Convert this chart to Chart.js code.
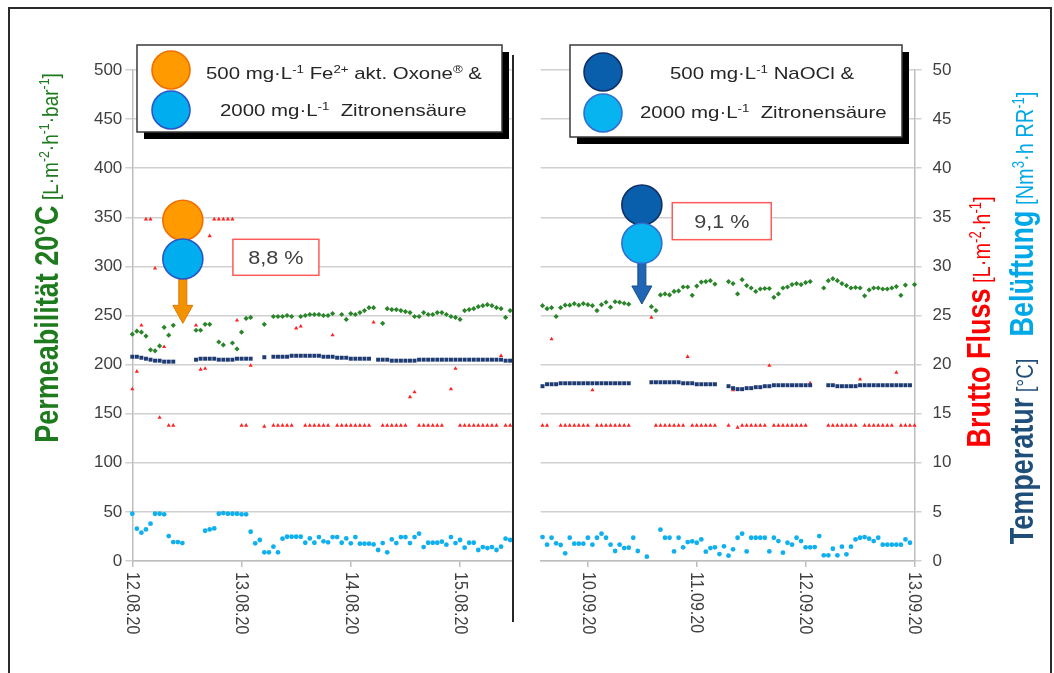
<!DOCTYPE html>
<html lang="de">
<head>
<meta charset="UTF-8">
<title>Permeabilität – Vergleich der Reinigungen</title>
<script src="https://cdn.jsdelivr.net/npm/chart.js"></script>
<style>
  html, body { margin: 0; padding: 0; background: #fff; }
  #wrap { position: relative; width: 1054px; height: 673px; overflow: hidden; }
  #frame { position: absolute; left: 8px; top: 7px; width: 1040px; height: 700px; border: 2px solid #2b2b2b; }
  #leftChart { position: absolute; left: 0; top: 0; }
  #rightChart { position: absolute; left: 513px; top: 0; }
</style>
</head>
<body>
<div id="wrap">
  <div id="frame"></div>
  <canvas id="leftChart" width="520" height="673"></canvas>
  <canvas id="rightChart" width="541" height="673"></canvas>
</div>
<script>
// x values are hours: left panel from 12.08.20 00:00, right panel from 09.09.20 00:00
const leftStartHour = 0;
const leftEndHour = 83.3;
const leftTickHours = [0, 24, 48, 72];
const leftTickLabels = ['12.08.20', '13.08.20', '14.08.20', '15.08.20'];

const rightStartHour = 14;
const rightMinHour = 13.6;
const rightEndHour = 96;
const rightTickHours = [24, 48, 72, 96];
const rightTickLabels = ['10.09.20', '11.09.20', '12.09.20', '13.09.20'];

// Permeabilität 20°C [L/(m²·h·bar)] - left axis
const leftPerm = [
  231, 234, 233, 229, 215, 214, 219, 238, 230, 240,
  null, null, null, null, 235, 235, 241, 241, null, 223,
  220, null, 222, 216, 233, 247, 248, null, null, 241,
  null, 249, 249, 249, 250, 249, null, 249, 250, 251,
  251, 251, 250, 250, 252, null, 251, 246, 252, 251,
  253, 255, 258, 258, null, 242, 257, 256, 256, 255,
  254, 253, 249, 249, 253, 251, 251, 253, 253, 251,
  249, 248, 246, 255, 256, 257, 259, 260, 261, 260,
  258, 257, 248, 255
];
// Brutto Fluss [L/(m²·h)] - right axis
const leftFlux = [
  17.5, 19.3, 24.0, 34.8, 34.8, 29.8, 14.6, 21.8, 13.8, 13.8,
  null, null, null, null, 24.0, 19.5, 19.6, 33.1, 34.8, 34.8,
  34.8, 34.8, 34.8, 24.5, 13.8, 13.8, 19.9, null, null, 13.7,
  null, 13.8, 13.8, 13.8, 13.8, 13.8, 23.7, 23.9, 13.8, 13.8,
  13.8, 13.8, 13.8, 13.8, 23.0, 13.8, 13.8, 13.8, 13.8, 13.8,
  13.8, 13.8, 13.8, 24.3, null, 13.8, 13.8, 13.8, 13.8, 13.8,
  13.8, 16.7, 17.2, 13.8, 13.8, 13.8, 13.8, 13.8, 13.8, null,
  17.5, 19.6, 13.8, 13.8, 13.8, 13.8, 13.8, 13.8, 13.8, 13.8,
  13.8, 20.9, 13.8, 13.8
];
// Temperatur [°C] - right axis
const leftTemp = [
  20.8, 20.8, 20.7, 20.6, 20.5, 20.4, 20.4, 20.3, 20.3, 20.3,
  null, null, null, null, 20.5, 20.6, 20.6, 20.6, 20.6, 20.5,
  20.5, 20.5, 20.5, 20.6, 20.6, 20.6, 20.6, null, null, 20.75,
  null, 20.8, 20.8, 20.8, 20.8, 20.9, 20.9, 20.9, 20.9, 20.9,
  20.9, 20.9, 20.8, 20.8, 20.8, 20.7, 20.7, 20.7, 20.6, 20.6,
  20.6, 20.6, 20.6, null, 20.5, 20.5, 20.5, 20.4, 20.4, 20.4,
  20.4, 20.4, 20.4, 20.5, 20.5, 20.5, 20.5, 20.5, 20.5, 20.5,
  20.5, 20.5, 20.5, 20.5, 20.5, 20.5, 20.5, 20.5, 20.5, 20.5,
  20.5, 20.5, 20.4, 20.4
];
// Belüftung [Nm³/(h·RR)] - right axis
const leftAir = [
  4.81, 3.29, 2.88, 3.22, 3.8, 4.81, 4.81, 4.75, 2.54, 1.93,
  1.93, 1.83, null, null, null, null, 3.08, 3.22, 3.32, 4.81,
  4.88, 4.81, 4.81, 4.81, 4.75, 4.75, 2.98, 1.8, 2.14, 0.88,
  0.88, 1.46, 0.88, 2.27, 2.47, 2.47, 2.47, 2.47, 1.86, 2.3,
  1.86, 2.44, 2.0, 1.9, 2.44, 2.44, 1.86, 2.3, 1.8, 2.44,
  1.76, 1.76, 1.76, 1.69, 1.12, 1.83, 0.88, 2.2, 1.83, 2.44,
  2.44, 1.83, 2.44, 2.78, 1.42, 1.86, 1.86, 1.86, 1.97, 1.66,
  2.44, 1.83, 2.14, 1.36, 1.86, 1.86, 1.12, 1.42, 1.32, 1.42,
  1.12, 1.46, 2.27, 2.14
];

const rightPerm = [
  260, 257, 258, 249, 258, 260.5, 260.5, 262, 260.5, 262,
  261, 260, 255, 261, 263.5, 258.5, 264, 263.5, 262.5, 261.5,
  null, null, null, null, 259, 255, 271, 272, 271, 274.5,
  275, 279, 279, 270.5, 280, 284, 284.5, 285.5, 282, null,
  null, 284.5, 282.5, 272, 286.5, 280.5, 278, 274.5, 277, 277.5,
  277.5, 268.5, 272, 278, 279, 281.5, 282.5, 281.5, 283.5, 284.5,
  null, null, 278, 285.5, 287.5, 285.5, 282.5, 280.5, 278, 278.5,
  278, 270, 276, 278, 278, 277, 277, 278, 279.5, 270.5,
  281, null, 281.5
];
const rightFlux = [
  13.8, 13.8, 22.6, null, 13.8, 13.8, 13.8, 13.8, 13.8, 13.8,
  13.8, 17.4, 13.8, 13.8, 13.8, 13.8, 13.8, 13.8, 13.8, 13.8,
  null, null, null, null, 24.8, 13.8, 13.8, 13.8, 13.8, 13.8,
  13.8, 13.8, 20.8, 13.8, 13.8, 13.8, 13.8, 13.8, 13.8, null,
  null, 13.8, 17.4, 13.6, 13.8, 13.8, 13.8, 13.8, 13.8, 13.8,
  19.9, 13.8, 13.8, 13.8, 13.8, 13.8, 13.8, 13.8, 13.8, 18.1,
  null, null, null, 13.8, 13.8, 13.8, 13.8, 13.8, 13.8, 13.8,
  18.5, 13.8, 13.8, 13.8, 13.8, 13.8, 13.8, 13.8, 19.2, 13.8,
  13.8, 13.8, 13.8
];
const rightTemp = [
  17.8, 18.0, 18.0, 18.0, 18.1, 18.1, 18.1, 18.1, 18.1, 18.1,
  18.1, 18.1, 18.1, 18.1, 18.1, 18.1, 18.1, 18.1, 18.1, 18.1,
  null, null, null, null, 18.2, 18.2, 18.2, 18.2, 18.2, 18.2,
  18.2, 18.1, 18.1, 18.1, 18.0, 18.0, 18.0, 18.0, 18.0, null,
  null, 17.8, 17.6, 17.5, 17.5, 17.6, 17.6, 17.7, 17.7, 17.8,
  17.8, 17.9, 17.9, 17.9, 17.9, 17.9, 17.9, 17.9, 17.9, 17.9,
  null, null, null, 17.9, 17.9, 17.8, 17.8, 17.8, 17.8, 17.8,
  17.9, 17.9, 17.9, 17.9, 17.9, 17.9, 17.9, 17.9, 17.9, 17.9,
  17.9, 17.9, null
];
const rightAir = [
  2.44, 1.66, 2.37, 1.8, 1.63, 0.78, 2.37, 1.76, 1.76, 1.76,
  2.37, 1.66, 2.37, 2.78, 2.37, 1.66, 1.02, 1.66, 1.32, 1.36,
  2.37, 1.02, null, 0.44, null, null, 3.19, 2.37, 2.37, 0.98,
  2.37, 1.39, 1.93, 2.0, 1.86, 2.2, 0.95, 1.32, 1.39, 0.71,
  1.49, 0.54, 1.19, 2.37, 2.78, 0.98, 2.37, 2.37, 2.37, 2.37,
  0.98, 2.37, 2.03, 0.85, 1.86, 1.66, 2.37, 2.03, 1.39, 1.39,
  1.42, 2.54, 0.58, 0.58, 1.25, 0.58, 1.46, 0.68, 1.46, 2.2,
  2.37, 2.44, 2.27, 2.03, 2.37, 1.66, 1.66, 1.66, 1.66, 1.66,
  2.2, 1.86, null
];

const FAM = '"Liberation Sans", Arial, sans-serif';
const SX = 1.2;   // the reference text is drawn a bit wider than tall
const GRID = '#d0d0d0';
const AXIS = '#bdbdbd';
const TICK_TEXT = '#404040';
Chart.defaults.font.family = FAM;

function pts(start, vals) {
  const out = [];
  vals.forEach((v, i) => { if (v !== null) out.push({ x: start + i, y: v }); });
  return out;
}

function makeSets(start, perm, flux, temp, air) {
  const base = { showLine: false, pointBorderWidth: 0, clip: false };
  return [
    { ...base, label: 'Temperatur', data: pts(start, temp), yAxisID: 'y2',
      backgroundColor: '#1f3b73', pointStyle: 'rect', pointRadius: 2.8 },
    { ...base, label: 'Belüftung', data: pts(start, air), yAxisID: 'y2',
      backgroundColor: '#10b0ee', pointStyle: 'circle', pointRadius: 2.4 },
    { ...base, label: 'Permeabilität 20°C', data: pts(start, perm), yAxisID: 'y',
      backgroundColor: '#2a852a', pointStyle: 'rectRot', pointRadius: 2.6 },
    { ...base, label: 'Brutto Fluss', data: pts(start, flux), yAxisID: 'y2',
      backgroundColor: '#ff2020', pointStyle: 'triangle', pointRadius: 2.4 }
  ];
}

// text with superscripts, optionally rotated
function drawRich(ctx, segs, x, y, angle, align, color) {
  ctx.save();
  ctx.translate(x, y);
  ctx.scale(SX, 1);
  if (angle) ctx.rotate(angle * Math.PI / 180);
  ctx.textBaseline = 'alphabetic';
  ctx.textAlign = 'left';
  const fonts = segs.map(s => (s.b ? 'bold ' : '') + (s.sup ? s.s * 0.65 : s.s) + 'px ' + FAM);
  const widths = segs.map((s, i) => { ctx.font = fonts[i]; return ctx.measureText(s.t).width; });
  let cx = align === 'center' ? -widths.reduce((a, b) => a + b, 0) / 2 : 0;
  segs.forEach((s, i) => {
    ctx.font = fonts[i];
    ctx.fillStyle = s.c || color;
    ctx.fillText(s.t, cx, s.sup ? -s.s * 0.38 : 0);
    cx += widths[i];
  });
  ctx.restore();
}

function circle(ctx, x, y, r, fill, stroke) {
  ctx.beginPath();
  ctx.arc(x, y, r, 0, Math.PI * 2);
  ctx.fillStyle = fill;
  ctx.fill();
  ctx.lineWidth = 1.6;
  ctx.strokeStyle = stroke;
  ctx.stroke();
}

function arrowDown(ctx, x, y0, y1, fill, stroke) {
  const sw = 4, hw = 10, hl = 18;
  ctx.beginPath();
  ctx.moveTo(x - sw, y0);
  ctx.lineTo(x + sw, y0);
  ctx.lineTo(x + sw, y1 - hl);
  ctx.lineTo(x + hw, y1 - hl);
  ctx.lineTo(x, y1);
  ctx.lineTo(x - hw, y1 - hl);
  ctx.lineTo(x - sw, y1 - hl);
  ctx.closePath();
  ctx.fillStyle = fill;
  ctx.fill();
  ctx.lineWidth = 1;
  ctx.strokeStyle = stroke;
  ctx.stroke();
}

function legendBox(ctx, box, circles, lines) {
  ctx.fillStyle = '#000';
  ctx.fillRect(box.x + 7, box.y + 7, box.w, box.h);
  ctx.fillStyle = '#fff';
  ctx.fillRect(box.x, box.y, box.w, box.h);
  ctx.lineWidth = 1.5;
  ctx.strokeStyle = '#3a3a3a';
  ctx.strokeRect(box.x, box.y, box.w, box.h);
  circles.forEach(c => circle(ctx, c.x, c.y, 19, c.fill, c.stroke));
  lines.forEach(l => drawRich(ctx, l.segs, l.x, l.y, 0, 'left', '#262626'));
}

function unit(parts, size) {
  // parts: strings, superscripts marked with ^
  return parts.map(p => p.startsWith('^') ? { t: p.slice(1), s: size, sup: true } : { t: p, s: size });
}

function decoPlugin(spec) {
  return {
    id: 'deco_' + spec.name,
    afterDatasetsDraw(chart) {
      const ctx = chart.ctx;
      const xs = chart.scales.x, ys = chart.scales.y;
      const m = spec.mark;
      const mx = xs.getPixelForValue(m.hour);
      ctx.save();
      arrowDown(ctx, mx, ys.getPixelForValue(m.circles[1].v) + 16, ys.getPixelForValue(m.tip), m.arrowFill, m.arrowStroke);
      m.circles.forEach(c => circle(ctx, mx, ys.getPixelForValue(c.v), 20, c.fill, c.stroke));
      const bx = xs.getPixelForValue(m.box.hour), by = ys.getPixelForValue(m.box.v);
      ctx.fillStyle = '#fff';
      ctx.fillRect(bx, by, m.box.w, m.box.h);
      ctx.lineWidth = 1.5;
      ctx.strokeStyle = '#ff5a5a';
      ctx.strokeRect(bx, by, m.box.w, m.box.h);
      drawRich(ctx, [{ t: m.box.text, s: 18 }], bx + m.box.w / 2, by + m.box.h / 2 + 6.5, 0, 'center', '#404040');
      ctx.restore();
    },
    afterDraw(chart) {
      const ctx = chart.ctx;
      const xs = chart.scales.x;
      ctx.save();
      // date labels, turned clockwise
      ctx.fillStyle = TICK_TEXT;
      ctx.font = '16px ' + FAM;
      ctx.textAlign = 'left';
      ctx.textBaseline = 'middle';
      spec.tickHours.forEach((h, i) => {
        ctx.save();
        ctx.translate(xs.getPixelForValue(h), xs.top + 11);
        ctx.scale(SX, 1);
        ctx.rotate(Math.PI / 2);
        ctx.fillText(spec.tickLabels[i], 0, 0);
        ctx.restore();
      });
      spec.titles.forEach(t => drawRich(ctx, t.segs, t.x, t.y, -90, 'center', t.color));
      legendBox(ctx, spec.legend.box, spec.legend.circles, spec.legend.lines);
      if (spec.divider) {
        ctx.fillStyle = '#262626';
        ctx.fillRect(chart.chartArea.right + 0.5, 55, 2, 567);
      }
      ctx.restore();
    }
  };
}

function makeChart(canvasId, cfg) {
  return new Chart(document.getElementById(canvasId), {
    type: 'scatter',
    data: { datasets: cfg.datasets },
    options: {
      responsive: false,
      animation: false,
      devicePixelRatio: 1,
      layout: { padding: cfg.padding },
      plugins: { legend: { display: false }, tooltip: { enabled: false } },
      scales: {
        x: {
          type: 'linear', min: cfg.xMin, max: cfg.xMax,
          afterBuildTicks: s => { s.ticks = cfg.tickHours.map(v => ({ value: v })); },
          ticks: { display: false },
          grid: { drawOnChartArea: false, drawTicks: true, tickLength: 6, color: AXIS, lineWidth: 1.5 },
          border: { color: AXIS, width: 1.5 },
          afterFit: s => { s.height = 112; }
        },
        y: {
          position: 'left', display: cfg.showLeft, min: 0, max: 500,
          ticks: { stepSize: 50, color: TICK_TEXT, font: { size: 17 }, padding: 3 },
          grid: { color: GRID, lineWidth: 1.5, tickLength: 7 },
          border: { color: AXIS, width: 1.5 },
          afterFit: s => { s.width = cfg.showLeft ? 132.3 : 0; }
        },
        y2: {
          position: 'right', display: !cfg.showLeft, min: 0, max: 50,
          ticks: { stepSize: 5, color: TICK_TEXT, font: { size: 17 }, padding: 11 },
          grid: { color: GRID, lineWidth: 1.5, tickLength: 7 },
          border: { color: AXIS, width: 1.5 },
          afterFit: s => { s.width = cfg.showLeft ? 0 : 139.5; }
        }
      }
    },
    plugins: [cfg.plugin]
  });
}

const bold = (t, c) => ({ t: t, s: 27, b: true, c: c });
const zitrone = [{ t: '2000 mg·L', s: 17 }, { t: '-1', s: 17, sup: true }, { t: '  Zitronensäure', s: 17 }];

makeChart('leftChart', {
  datasets: makeSets(leftStartHour, leftPerm, leftFlux, leftTemp, leftAir),
  xMin: leftStartHour, xMax: leftEndHour, tickHours: leftTickHours,
  padding: { top: 70, right: 8.5, left: 0, bottom: 0 },
  showLeft: true,
  plugin: decoPlugin({
    name: 'left', divider: true,
    tickHours: leftTickHours, tickLabels: leftTickLabels,
    titles: [{
      x: 58, y: 258, color: '#1d7a1d',
      segs: [bold('Permeabilität 20°C')].concat(unit([' [L·m', '^-2', '·h', '^-1', '·bar', '^-1', ']'], 19))
    }],
    legend: {
      box: { x: 137, y: 45, w: 365, h: 87 },
      circles: [{ x: 171, y: 70, fill: '#ff9a00', stroke: '#f07000' },
                { x: 171, y: 110, fill: '#00aeef', stroke: '#2a55c8' }],
      lines: [
        { x: 206, y: 79, segs: [{ t: '500 mg·L', s: 17 }, { t: '-1', s: 17, sup: true }, { t: ' Fe', s: 17 },
                                { t: '2+', s: 17, sup: true }, { t: ' akt. Oxone', s: 17 }, { t: '®', s: 17, sup: true },
                                { t: ' &', s: 17 }] },
        { x: 220, y: 116, segs: zitrone }
      ]
    },
    mark: {
      hour: 11.1,
      circles: [{ v: 347, fill: '#ff9a00', stroke: '#f07000' }, { v: 307.5, fill: '#00aeef', stroke: '#2a55c8' }],
      tip: 242, arrowFill: '#f39200', arrowStroke: '#e07800',
      box: { hour: 22.1, v: 327.6, w: 86, h: 36, text: '8,8 %' }
    }
  })
});

makeChart('rightChart', {
  datasets: makeSets(rightStartHour, rightPerm, rightFlux, rightTemp, rightAir),
  xMin: rightMinHour, xMax: rightEndHour, tickHours: rightTickHours,
  padding: { top: 70, right: 0, left: 27.7, bottom: 0 },
  showLeft: false,
  plugin: decoPlugin({
    name: 'right', divider: false,
    tickHours: rightTickHours, tickLabels: rightTickLabels,
    titles: [
      { x: 477, y: 322, color: '#ff0000',
        segs: [bold('Brutto Fluss')].concat(unit([' [L·m', '^-2', '·h', '^-1', ']'], 20)) },
      { x: 520, y: 318, color: '#1f4e79',
        segs: [bold('Temperatur'), { t: ' [°C]', s: 20 }, { t: '    ', s: 20 },
               bold('Belüftung', '#00a8e8')]
              .concat(unit([' [Nm', '^3', '·h RR', '^-1', ']'], 20).map(s => ({ ...s, c: '#00a8e8' }))) }
    ],
    legend: {
      box: { x: 57, y: 45, w: 332, h: 92 },
      circles: [{ x: 90, y: 72, fill: '#0a5fad', stroke: '#102f66' },
                { x: 90, y: 113, fill: '#08b4f0', stroke: '#2f6fd0' }],
      lines: [
        { x: 157, y: 79, segs: [{ t: '500 mg·L', s: 17 }, { t: '-1', s: 17, sup: true }, { t: ' NaOCl &', s: 17 }] },
        { x: 127, y: 118, segs: zitrone }
      ]
    },
    mark: {
      hour: 35.9,
      circles: [{ v: 362.5, fill: '#0a5fad', stroke: '#102f66' }, { v: 323.5, fill: '#08b4f0', stroke: '#2f6fd0' }],
      tip: 261.7, arrowFill: '#1f66b5', arrowStroke: '#174a8a',
      box: { hour: 42.6, v: 364.9, w: 99, h: 37, text: '9,1 %' }
    }
  })
});
</script>
</body>
</html>
